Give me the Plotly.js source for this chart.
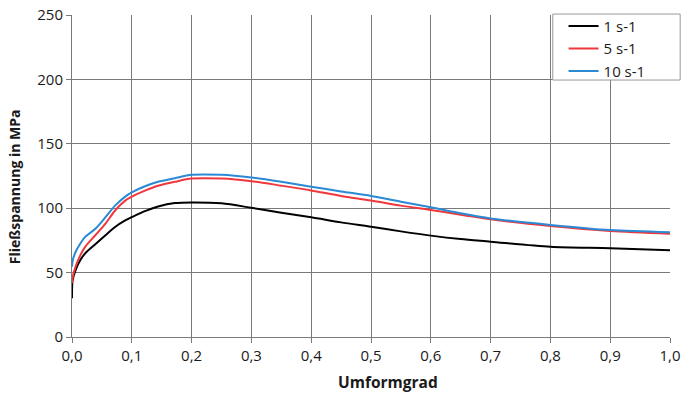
<!DOCTYPE html>
<html>
<head>
<meta charset="utf-8">
<script src="https://cdn.plot.ly/plotly-3.0.1.min.js"></script>
<style>html,body{margin:0;padding:0;background:#fff;}#chart{width:683px;height:396px;}</style>
</head>
<body>
<div id="chart"></div>
<script>
const umformgrad = [0, 0.001, 0.006, 0.014, 0.022, 0.039, 0.056, 0.072, 0.089, 0.1, 0.122, 0.144, 0.172, 0.2, 0.25, 0.3, 0.35, 0.4, 0.45, 0.5, 0.55, 0.6, 0.65, 0.7, 0.8, 0.9, 1.0];
const rate1 = [30, 44, 52, 59.7, 64.9, 72, 79, 85.4, 90.5, 93, 97.7, 101.3, 104, 104.5, 103.8, 100.3, 96.5, 93, 89, 85.6, 82, 78.7, 76, 74, 70, 68.9, 67.3];
const rate5 = [41.8, 46, 54.6, 63.6, 70, 79, 88, 98.2, 105.9, 109, 113.6, 117.4, 120.5, 123, 123, 121, 117.5, 113.8, 109.5, 106, 102, 98.6, 95, 91.4, 86.2, 82.3, 80.2];
const rate10 = [54.6, 59, 66, 72.6, 77.7, 84, 93, 102, 109, 112.3, 117, 120.5, 123.3, 125.9, 125.9, 123.8, 120.5, 116.7, 113, 109.5, 105, 100.7, 96, 92, 87, 83, 81.3];
const seriesNames = ["1 s-1", "5 s-1", "10 s-1"];
const seriesColors = ["#000000", "#f0373c", "#2a8ad4"];
const xTicks = [0, 0.1, 0.2, 0.3, 0.4, 0.5, 0.6, 0.7, 0.8, 0.9, 1.0];
const yTicks = [0, 50, 100, 150, 200, 250];
const xTitle = "Umformgrad";
const yTitle = "Fließspannung in MPa";

const ys = [rate1, rate5, rate10];
const traces = ys.map((y, i) => ({
  x: umformgrad, y: y, type: "scatter", mode: "lines",
  name: seriesNames[i],
  line: {color: seriesColors[i], width: 2, shape: "spline", smoothing: 0.8}
}));

const fam = "Open Sans, sans-serif";
const txt = "#1a1a1a";
const grid = "#7a7a7a";
const layout = {
  width: 683, height: 396,
  margin: {l: 72, r: 13, t: 15, b: 59, autoexpand: false},
  paper_bgcolor: "#fff", plot_bgcolor: "#fff",
  separators: ",.",
  font: {family: fam, size: 15, color: txt},
  showlegend: true,
  legend: {x: 0.822, y: 1.016, xanchor: "left", yanchor: "top",
    bgcolor: "rgba(0,0,0,0)", borderwidth: 0,
    font: {family: fam, size: 15, color: txt},
    tracegroupgap: 0, itemwidth: 30},
  shapes: [{type: "rect", xref: "paper", yref: "paper",
    x0: 0.804, x1: 1.017, y0: 0.798, y1: 1.003,
    line: {color: "#999", width: 1}, fillcolor: "#fff", layer: "above"}],
  annotations: [
    {text: "<b>" + xTitle + "</b>", xref: "paper", yref: "paper", x: 0.528, y: -0.14,
     showarrow: false, xanchor: "center", yanchor: "middle", font: {family: fam, size: 15.5, color: txt}},
    {text: "<b>" + yTitle + "</b>", xref: "paper", yref: "paper", x: -0.095, y: 0.466, textangle: -90,
     showarrow: false, xanchor: "center", yanchor: "middle", font: {family: fam, size: 14, color: txt}}
  ],
  xaxis: {range: [0, 1], tickvals: xTicks, tickformat: ".1f",
    showgrid: true, gridcolor: grid, gridwidth: 1,
    showline: true, linecolor: grid, linewidth: 1, zeroline: false,
    ticks: "outside", ticklen: 5, tickcolor: grid},
  yaxis: {range: [0, 250], tickvals: yTicks,
    showgrid: true, gridcolor: grid, gridwidth: 1,
    showline: true, linecolor: grid, linewidth: 1, zeroline: false,
    ticks: "outside", ticklen: 5, tickcolor: grid}
};
Plotly.newPlot("chart", traces, layout, {displayModeBar: false, staticPlot: true});
</script>
</body>
</html>
